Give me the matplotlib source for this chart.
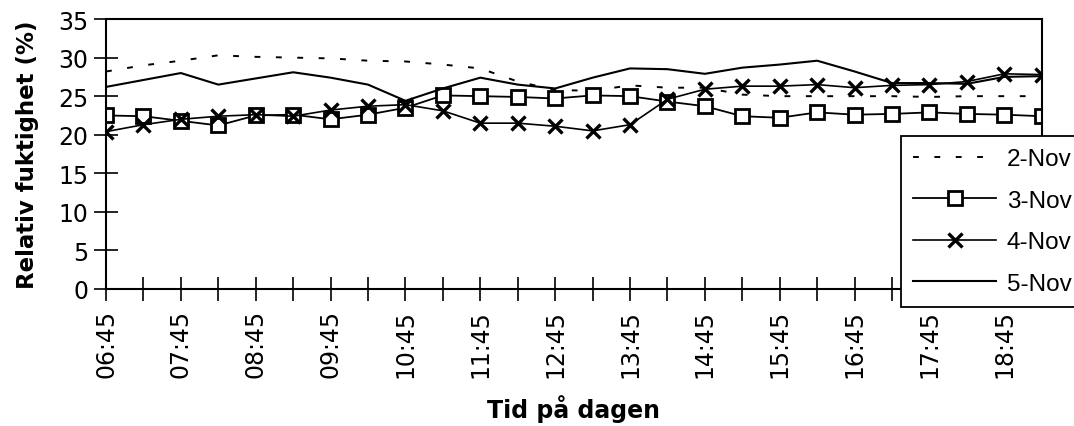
import matplotlib
matplotlib.use("Agg")
import matplotlib.pyplot as plt
import numpy as np

times = ["06:45", "07:15", "07:45", "08:15", "08:45", "09:15", "09:45", "10:15", "10:45",
         "11:15", "11:45", "12:15", "12:45", "13:15", "13:45", "14:15", "14:45", "15:15",
         "15:45", "16:15", "16:45", "17:15", "17:45", "18:15", "18:45", "19:15"]

nov2 = [28.2, 29.0, 29.6, 30.3, 30.1, 30.0, 29.9, 29.6, 29.5, 29.1, 28.6, 26.9, 25.8,
        25.7, 26.4, 26.1, 26.1, 25.2, 25.0, 25.0, 25.0, 25.0, 24.9, 25.0, 25.0, 25.0]
nov3 = [22.5, 22.4, 21.8, 21.2, 22.5, 22.6, 22.0, 22.6, 23.5, 25.1, 25.0, 24.9, 24.7,
        25.1, 25.0, 24.3, 23.7, 22.4, 22.2, 22.9, 22.6, 22.7, 22.9, 22.7, 22.6, 22.4]
nov4 = [20.4, 21.3, 22.0, 22.4, 22.6, 22.4, 23.2, 23.7, 23.9, 23.1, 21.5, 21.5, 21.1,
        20.5, 21.3, 24.6, 25.9, 26.3, 26.3, 26.5, 26.1, 26.4, 26.5, 26.9, 27.9, 27.8]
nov5 = [26.2, 27.1, 28.0, 26.5, 27.3, 28.1, 27.4, 26.5, 24.4, 26.0, 27.4, 26.5, 26.0,
        27.4, 28.6, 28.5, 27.9, 28.7, 29.1, 29.6, 28.2, 26.7, 26.7, 26.6, 27.5, 27.6]

labels = ["2-Nov", "3-Nov", "4-Nov", "5-Nov"]
yticks = [0, 5, 10, 15, 20, 25, 30, 35]

fig = plt.figure(figsize=(10.74, 4.27), dpi=100)
ax = fig.add_axes([0.0987, 0.321, 0.8713, 0.632])

x = np.arange(len(times))
ax.plot(x, nov2, color="black", lw=1.4, linestyle=(0, (3, 8)), label=labels[0])
ax.plot(x, nov3, color="black", lw=1.3, marker="s", ms=9.5, mfc="white", mec="black",
        mew=2.0, label=labels[1])
ax.plot(x, nov4, color="black", lw=1.2, marker="x", ms=10, mew=2.4, label=labels[2])
ax.plot(x, nov5, color="black", lw=1.5, label=labels[3])

ax.set_xlim(0, len(times) - 1)
ax.set_ylim(0, 35)
ax.set_yticks(yticks)
ax.set_xticks(x)
ax.set_xticklabels([t if i % 2 == 0 else "" for i, t in enumerate(times)],
                   rotation=90, fontsize=17)
ax.tick_params(axis="both", direction="inout", length=17, width=1.2, labelsize=17,
               colors="black")
ax.tick_params(axis="x", pad=6)
ax.tick_params(axis="y", pad=4)
for s in ax.spines.values():
    s.set_linewidth(1.5)

ax.set_ylabel("Relativ fuktighet (%)", fontsize=16.5, fontweight="bold", labelpad=14)
ax.set_xlabel("Tid på dagen", fontsize=17, fontweight="bold", labelpad=12)

leg = ax.legend(loc="upper left", bbox_to_anchor=(0.839, 0.679),
                bbox_transform=fig.transFigure, frameon=True, fancybox=False,
                framealpha=1, edgecolor="black", handlelength=3.4,
                handletextpad=0.45, labelspacing=0.8, borderpad=0.5, borderaxespad=0,
                prop={"family": "Liberation Sans", "size": 17.5})
leg.get_frame().set_linewidth(1.3)

fig.savefig("out.png", dpi=100)
